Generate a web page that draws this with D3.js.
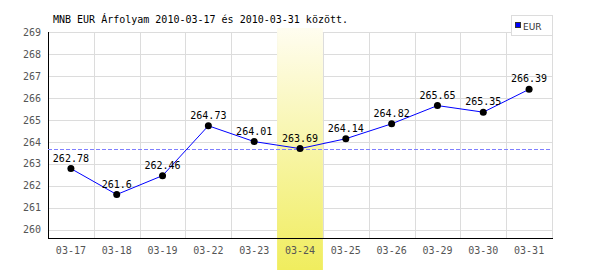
<!DOCTYPE html>
<html lang="hu">
<head>
  <meta charset="utf-8">
  <script src="https://d3js.org/d3.v7.min.js"></script>
  <style>
    body { margin: 0; background: #fff; }
    svg text { font-family: "DejaVu Sans Mono", monospace; font-size: 10px; }
  </style>
</head>
<body>
  <svg width="600" height="270"></svg>

  <script>
    const dates = ["03-17", "03-18", "03-19", "03-22", "03-23", "03-24", "03-25", "03-26", "03-29", "03-30", "03-31"];
    const rates = [262.78, 261.6, 262.46, 264.73, 264.01, 263.69, 264.14, 264.82, 265.65, 265.35, 266.39];
    const yTicks = [260, 261, 262, 263, 264, 265, 266, 267, 268, 269];
    const highlightDate = "03-24";
    const refValue = 263.69;
    const titleText = "MNB EUR Árfolyam 2010-03-17 és 2010-03-31 között.";
    const seriesName = "EUR";

    const mLeft = 48, mRight = 552, mTop = 32, mBottom = 238;
    const svg = d3.select("svg");

    const x = d3.scaleBand().domain(dates).range([mLeft, mRight]);
    const y = d3.scaleLinear().domain([259.62, 269]).range([mBottom, mTop]);

    // gradient for highlighted day
    const grad = svg.append("defs").append("linearGradient")
      .attr("id", "hl").attr("x1", 0).attr("y1", 0).attr("x2", 0).attr("y2", 1);
    grad.append("stop").attr("offset", "0%").attr("stop-color", "#fffdf0");
    grad.append("stop").attr("offset", "100%").attr("stop-color", "#f0ed5e");

    // grid
    const grid = svg.append("g").attr("shape-rendering", "crispEdges");
    grid.selectAll("line.h").data(yTicks).enter().append("line")
      .attr("x1", mLeft).attr("x2", mRight)
      .attr("y1", d => Math.round(y(d)) + 0.5).attr("y2", d => Math.round(y(d)) + 0.5)
      .attr("stroke", "#dcdcdc");
    grid.selectAll("line.v").data(dates.slice(1).concat(["end"])).enter().append("line")
      .attr("x1", (d, i) => Math.round(mLeft + x.step() * (i + 1)) + 0.5)
      .attr("x2", (d, i) => Math.round(mLeft + x.step() * (i + 1)) + 0.5)
      .attr("y1", mTop).attr("y2", mBottom)
      .attr("stroke", "#dcdcdc");

    // highlight band
    svg.append("rect")
      .attr("x", x(highlightDate)).attr("width", x.bandwidth())
      .attr("y", 28).attr("height", 270 - 28)
      .attr("fill", "url(#hl)");

    // axes
    const yAxis = svg.append("g")
      .attr("transform", `translate(${mLeft},0)`)
      .call(d3.axisLeft(y).tickValues(yTicks).tickSize(0).tickPadding(7));
    yAxis.select(".domain").remove();
    yAxis.selectAll("text").attr("fill", "#555").style("font-family", "DejaVu Sans Mono").style("font-size", "10px");

    const xAxis = svg.append("g")
      .attr("transform", `translate(0,${mBottom})`)
      .call(d3.axisBottom(x).tickSize(0).tickPadding(9));
    xAxis.select(".domain").remove();
    xAxis.selectAll("text").attr("fill", "#555").style("font-family", "DejaVu Sans Mono").style("font-size", "10px");

    svg.append("line").attr("x1", mLeft + 0.5).attr("x2", mLeft + 0.5).attr("y1", mTop).attr("y2", mBottom)
      .attr("stroke", "#000").attr("shape-rendering", "crispEdges");
    svg.append("line").attr("x1", mLeft).attr("x2", mRight + 1).attr("y1", mBottom + 0.5).attr("y2", mBottom + 0.5)
      .attr("stroke", "#000").attr("stroke-width", 1.5).attr("shape-rendering", "crispEdges");

    // reference dashed line
    svg.append("line")
      .attr("x1", mLeft).attr("x2", mRight)
      .attr("y1", Math.round(y(refValue)) + 0.5).attr("y2", Math.round(y(refValue)) + 0.5)
      .attr("stroke", "#7f7fff").attr("stroke-dasharray", "4,2")
      .attr("shape-rendering", "crispEdges");

    // series
    const cx = d => x(d) + x.bandwidth() / 2;
    const line = d3.line().x((d, i) => cx(dates[i])).y(d => y(d));
    svg.append("path").datum(rates)
      .attr("d", line).attr("fill", "none").attr("stroke", "#0000ff").attr("stroke-width", 1);

    svg.selectAll("circle.pt").data(rates).enter().append("circle")
      .attr("cx", (d, i) => cx(dates[i])).attr("cy", d => y(d))
      .attr("r", 3.5).attr("fill", "#000");

    svg.selectAll("text.val").data(rates).enter().append("text")
      .attr("x", (d, i) => cx(dates[i])).attr("y", d => y(d) - 7)
      .attr("text-anchor", "middle").attr("fill", "#000")
      .text(d => d);

    // title
    svg.append("text").attr("x", 53).attr("y", 23).attr("fill", "#000").text(titleText);

    // legend
    const lg = svg.append("g").attr("shape-rendering", "crispEdges");
    lg.append("rect").attr("x", 511.5).attr("y", 15.5).attr("width", 41).attr("height", 20)
      .attr("fill", "#fff").attr("stroke", "#dcdcdc");
    lg.append("rect").attr("x", 515.5).attr("y", 22.5).attr("width", 5).attr("height", 5)
      .attr("fill", "#0000ff").attr("stroke", "#333");
    lg.append("text").attr("x", 523).attr("y", 29.5).attr("fill", "#333")
      .style("font-family", "DejaVu Sans").style("font-size", "9px").text(seriesName);
  </script>
</body>
</html>
